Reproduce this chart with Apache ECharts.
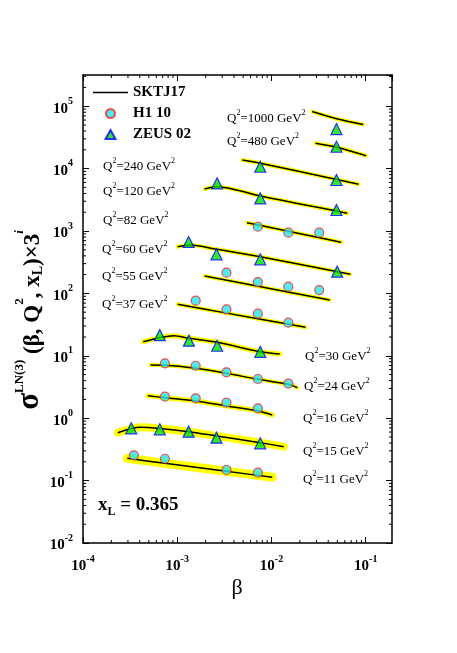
<!DOCTYPE html>
<html>
<head>
<meta charset="utf-8">
<title>sigma LN(3) vs beta</title>
<script src="https://cdn.jsdelivr.net/npm/echarts@6.0.0/dist/echarts.min.js"></script>
<style>
html, body { margin: 0; padding: 0; background: #fff; }
#main { width: 457px; height: 653px; }
</style>
</head>
<body>
<div id="main"></div>
<script>
// SKTJ17 curves, points are [beta, sigma * 3^i]
var fit1000 = [[0.027, 8.2e4], [0.049, 6.3e4], [0.094, 5.1e4]];
var fit480 = [[0.0293, 2.54e4], [0.049, 2.2e4], [0.101, 1.61e4]];
var fit240 = [[0.0049, 1.37e4], [0.0076, 1.22e4], [0.049, 6.7e3], [0.084, 5.6e3]];
var fit120 = [[0.00195, 4.71e3], [0.00265, 5.1e3], [0.0045, 4.46e3], [0.0076, 3.64e3], [0.049, 2.09e3], [0.0635, 1.92e3]];
var fit82 = [[0.0055, 1.36e3], [0.0151, 990], [0.0548, 659]];
var fit60 = [[0.00101, 560], [0.00138, 597], [0.00261, 509], [0.0076, 387], [0.0689, 202]];
var fit55 = [[0.00195, 190], [0.0072, 130], [0.0415, 78.4]];
var fit37 = [[0.00101, 66.9], [0.00333, 48.3], [0.023, 28.6]];
var fit30 = [[0.000435, 16.8], [0.00092, 21.0], [0.00133, 19.1], [0.00265, 16.5], [0.0076, 11.6], [0.01225, 10.7]];
var fit24 = [[0.00052, 7.1], [0.00074, 7.04], [0.00157, 6.3], [0.00333, 5.24], [0.0072, 4.2], [0.0151, 3.49], [0.0188, 3.08]];
var fit16 = [[0.000488, 2.29], [0.00074, 2.13], [0.00157, 1.89], [0.00333, 1.57], [0.0072, 1.30], [0.0102, 1.125]];
var fit15 = [[0.000234, 0.586], [0.000408, 0.714], [0.000653, 0.684], [0.00132, 0.608], [0.00261, 0.519], [0.0076, 0.405], [0.0135, 0.35]];
var fit11 = [[0.000295, 0.228], [0.00074, 0.189], [0.00333, 0.141], [0.0102, 0.113]];

// H1 10 points
var h1_82 = [[0.00717, 1170], [0.0151, 940], [0.0321, 940]];
var h1_55 = [[0.00333, 215], [0.00717, 152], [0.0151, 128], [0.0321, 113]];
var h1_37 = [[0.00157, 76.4], [0.00333, 55.6], [0.00717, 47.3], [0.0151, 33.9]];
var h1_24 = [[0.00074, 7.58], [0.00157, 6.93], [0.00333, 5.44], [0.00717, 4.25], [0.0151, 3.57]];
var h1_16 = [[0.00074, 2.21], [0.00157, 2.08], [0.00333, 1.77], [0.00717, 1.44]];
var h1_11 = [[0.000347, 0.254], [0.00074, 0.224], [0.00333, 0.148], [0.00717, 0.134]];

// ZEUS 02 points
var zeus1000 = [[0.0489, 4.3e4]];
var zeus480 = [[0.0489, 2.24e4]];
var zeus240 = [[0.0076, 1.07e4], [0.0489, 6.57e3]];
var zeus120 = [[0.00265, 5.81e3], [0.0076, 3.34e3], [0.0489, 2.17e3]];
var zeus60 = [[0.00132, 667], [0.00261, 423], [0.0076, 352], [0.0498, 223]];
var zeus30 = [[0.000653, 21.5], [0.00133, 17.5], [0.00265, 14.5], [0.0076, 11.6]];
var zeus15 = [[0.000325, 0.689], [0.000653, 0.664], [0.00132, 0.608], [0.00261, 0.487], [0.0076, 0.396]];

var qValues = ['1000', '480', '240', '120', '82', '60', '55', '37', '30', '24', '16', '15', '11'];
var fits = [fit1000, fit480, fit240, fit120, fit82, fit60, fit55, fit37, fit30, fit24, fit16, fit15, fit11];
var h1Sets = [h1_82, h1_55, h1_37, h1_24, h1_16, h1_11];
var zeusSets = [zeus1000, zeus480, zeus240, zeus120, zeus60, zeus30, zeus15];

// axis ranges
var X_MIN = 1e-4, X_MAX = 0.19;
var Y_MIN = 1e-2, Y_MAX = Math.pow(10, 5.5);

// styling / layout (not data)
var bandWidth = [4, 4, 4, 4, 4, 4, 4, 4, 5, 4, 5, 8, 9];
var labelPos = [[227, 117], [227, 140], [103, 165], [103, 190], [103, 219], [102, 248], [102, 275], [102, 303],
                [305, 355], [304, 385], [303, 417], [303, 450], [303, 478]];
var SERIF = '"Liberation Serif", "DejaVu Serif", serif';

var xMinor = [], yMinor = [];
for (var d = -4; d <= -1; d++) {
    for (var k = 2; k <= 9; k++) { if (k * Math.pow(10, d) < X_MAX) xMinor.push([k * Math.pow(10, d), Y_MIN]); }
}
for (var d = -2; d <= 5; d++) {
    for (var k = 2; k <= 9; k++) { if (k * Math.pow(10, d) < Y_MAX) yMinor.push([X_MIN, k * Math.pow(10, d)]); }
}

var myChart = echarts.init(document.getElementById('main'));

function powLabel(v) {
    var e = Math.log10(v);
    var r = Math.round(e);
    if (Math.abs(e - r) > 1e-6) return '';
    return '{b|10}{s|' + r + '}';
}
var tickRich = {
    b: { fontFamily: SERIF, fontSize: 15, fontWeight: 'bold', color: '#000', lineHeight: 20, verticalAlign: 'bottom' },
    s: { fontFamily: SERIF, fontSize: 10, fontWeight: 'bold', color: '#000', lineHeight: 10, verticalAlign: 'top' }
};

var series = [];
fits.forEach(function (f, i) {
    series.push({
        name: 'band', type: 'line', data: f, smooth: 0.3, symbol: 'none', z: 2, silent: true,
        lineStyle: { color: '#ffff00', width: bandWidth[i], cap: 'round' }
    });
});
fits.forEach(function (f) {
    series.push({
        name: 'SKTJ17', type: 'line', data: f, smooth: 0.3, symbol: 'none', z: 3, silent: true,
        itemStyle: { color: '#000' },
        lineStyle: { color: '#000', width: 1.5 }
    });
});
series.push({
    name: 'H1 10', type: 'scatter', z: 5, symbol: 'circle', symbolSize: 9,
    data: [].concat.apply([], h1Sets),
    itemStyle: { color: '#22e6f0', borderColor: '#ff2020', borderWidth: 1.2 }
});
series.push({
    name: 'ZEUS 02', type: 'scatter', z: 5, symbol: 'triangle', symbolSize: 11,
    data: [].concat.apply([], zeusSets),
    itemStyle: { color: '#00dd00', borderColor: '#0000ff', borderWidth: 1.2 }
});
// minor log ticks on the four frame sides
series.push({
    name: 'xminor', type: 'custom', silent: true, z: 6, data: xMinor,
    renderItem: function (params, api) {
        var b = api.coord([api.value(0), Y_MIN]);
        var t = api.coord([api.value(0), Y_MAX]);
        return { type: 'group', children: [
            { type: 'line', shape: { x1: b[0], y1: b[1], x2: b[0], y2: b[1] - 3 }, style: { stroke: '#000', lineWidth: 1 } },
            { type: 'line', shape: { x1: t[0], y1: t[1], x2: t[0], y2: t[1] + 3 }, style: { stroke: '#000', lineWidth: 1 } }
        ] };
    }
});
series.push({
    name: 'yminor', type: 'custom', silent: true, z: 6, data: yMinor,
    renderItem: function (params, api) {
        var l = api.coord([X_MIN, api.value(1)]);
        var r = api.coord([X_MAX, api.value(1)]);
        return { type: 'group', children: [
            { type: 'line', shape: { x1: l[0], y1: l[1], x2: l[0] + 3, y2: l[1] }, style: { stroke: '#000', lineWidth: 1 } },
            { type: 'line', shape: { x1: r[0], y1: r[1], x2: r[0] - 3, y2: r[1] }, style: { stroke: '#000', lineWidth: 1 } }
        ] };
    }
});

function qText(q) {
    return '{a|Q}{s|2}{a|=' + q + ' GeV}{s|2}';
}
var qRich = {
    a: { fontFamily: SERIF, fontSize: 13, color: '#111', lineHeight: 16, verticalAlign: 'bottom' },
    s: { fontFamily: SERIF, fontSize: 8, color: '#111', lineHeight: 8, verticalAlign: 'top' }
};
var graphics = qValues.map(function (q, i) {
    return {
        type: 'text', x: labelPos[i][0], y: labelPos[i][1], z: 10,
        style: { text: qText(q), rich: qRich, align: 'left', verticalAlign: 'middle' }
    };
});
graphics.push({
    type: 'text', x: 98, y: 507, z: 10,
    style: {
        text: '{a|x}{sub|L}{a| = 0.365}', align: 'left', verticalAlign: 'middle',
        rich: {
            a: { fontFamily: SERIF, fontSize: 19, fontWeight: 'bold', color: '#ff0000', lineHeight: 22, verticalAlign: 'top' },
            sub: { fontFamily: SERIF, fontSize: 12, fontWeight: 'bold', color: '#ff0000', lineHeight: 12, verticalAlign: 'bottom' }
        }
    }
});
graphics.push({
    type: 'text', x: 237, y: 588, z: 10,
    style: { text: 'β', font: '22px ' + SERIF, fill: '#000', align: 'center', verticalAlign: 'middle' }
});
graphics.push({
    type: 'text', x: 29, y: 320, rotation: Math.PI / 2, z: 10,
    style: {
        text: '{sig|σ}{sup|LN(3)}{m| (β, Q}{sup|2}{m|, x}{sub|L}{m|)×3}{supi|i}',
        align: 'center', verticalAlign: 'middle',
        rich: {
            sig: { fontFamily: SERIF, fontSize: 31, fontWeight: 'bold', color: '#000', lineHeight: 32, verticalAlign: 'bottom' },
            sup: { fontFamily: SERIF, fontSize: 13, fontWeight: 'bold', color: '#000', lineHeight: 13, verticalAlign: 'top' },
            supi: { fontFamily: SERIF, fontSize: 13, fontWeight: 'bold', fontStyle: 'italic', color: '#000', lineHeight: 13, verticalAlign: 'top' },
            m: { fontFamily: SERIF, fontSize: 23, fontWeight: 'bold', color: '#000', lineHeight: 28, verticalAlign: 'bottom' },
            sub: { fontFamily: SERIF, fontSize: 14, fontWeight: 'bold', color: '#000', lineHeight: 14, verticalAlign: 'bottom' }
        }
    }
});

var axisCommon = {
    type: 'log', logBase: 10,
    axisLine: { show: true, onZero: false, lineStyle: { color: '#000', width: 1.5 } },
    axisTick: { show: true, inside: true, length: 6, lineStyle: { color: '#000', width: 1 } },
    splitLine: { show: false }
};

var option = {
    animation: false,
    backgroundColor: '#fff',
    grid: { left: 83, top: 75, width: 309, height: 468 },
    legend: {
        orient: 'vertical', left: 93, top: 85, padding: 0, itemGap: 6,
        itemWidth: 35, itemHeight: 9, selectedMode: false, symbolKeepAspect: true,
        data: [
            { name: 'SKTJ17', icon: 'path://M0,0h35v1.5h-35z', itemStyle: { color: '#000' } },
            { name: 'H1 10', icon: 'circle' },
            { name: 'ZEUS 02', icon: 'path://M5,0L10,9L0,9Z' }
        ],
        textStyle: { fontFamily: SERIF, fontSize: 15, fontWeight: 'bold', color: '#000' }
    },
    xAxis: [
        Object.assign({}, axisCommon, {
            min: X_MIN, max: X_MAX, position: 'bottom',
            axisLabel: { formatter: powLabel, rich: tickRich, margin: 11, showMaxLabel: false }
        }),
        Object.assign({}, axisCommon, {
            min: X_MIN, max: X_MAX, position: 'top', axisLabel: { show: false }
        })
    ],
    yAxis: [
        Object.assign({}, axisCommon, {
            min: Y_MIN, max: Y_MAX, position: 'left',
            axisLabel: { formatter: powLabel, rich: tickRich, margin: 10, showMaxLabel: false }
        }),
        Object.assign({}, axisCommon, {
            min: Y_MIN, max: Y_MAX, position: 'right', axisLabel: { show: false }
        })
    ],
    series: series,
    graphic: graphics
};
myChart.setOption(option);
</script>
</body>
</html>
